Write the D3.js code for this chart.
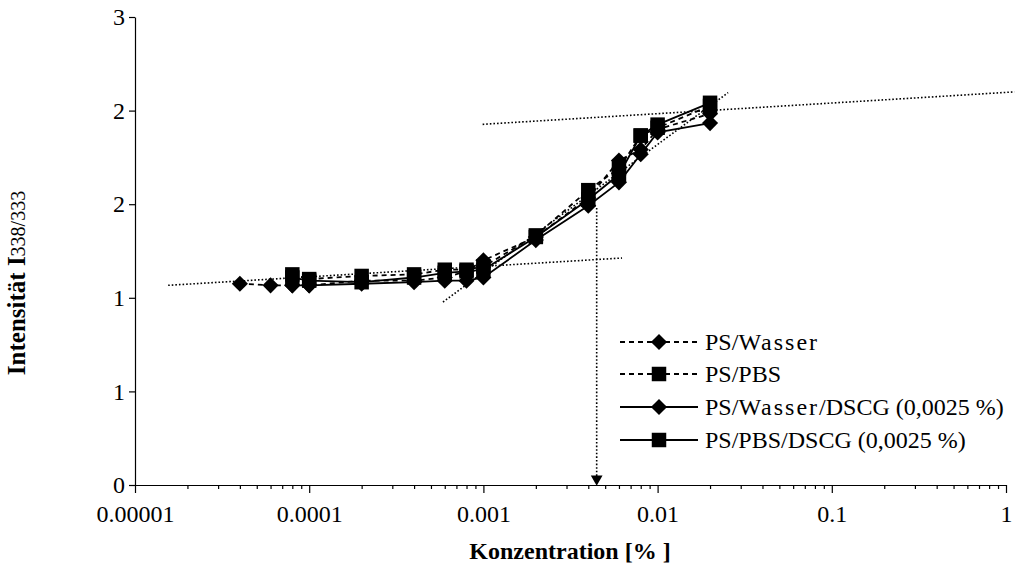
<!DOCTYPE html>
<html>
<head>
<meta charset="utf-8">
<script src="https://cdn.jsdelivr.net/npm/d3@7"></script>
<style>
  body { margin: 0; background: #fff; }
  svg { display: block; font-family: "Liberation Serif", "Times New Roman", serif; }
</style>
</head>
<body>
<svg id="chart"></svg>
<script>
const width = 1016;
const height = 586;
const serif = '"Liberation Serif", "Times New Roman", serif';

// Konzentration [%]
const concWasser = [0.00004, 0.00006, 0.00008, 0.0001, 0.0002, 0.0004, 0.0006, 0.0008, 0.001, 0.002, 0.004, 0.006, 0.008, 0.01, 0.02];
const concPBS = [0.00008, 0.0001, 0.0002, 0.0004, 0.0006, 0.0008, 0.001, 0.002, 0.004, 0.006, 0.008, 0.01, 0.02];

// Intensität I338/333
const psWasser = [1.29, 1.28, 1.28, 1.28, 1.31, 1.31, 1.33, 1.37, 1.44, 1.59, 1.84, 2.08, 2.15, 2.28, 2.38];
const psPBS = [1.35, 1.32, 1.34, 1.35, 1.38, 1.38, 1.40, 1.60, 1.89, 2.03, 2.24, 2.29, 2.43];
const psWasserDSCG = [1.28, 1.28, 1.29, 1.30, 1.31, 1.31, 1.33, 1.57, 1.79, 1.94, 2.12, 2.26, 2.32];
const psPBSDSCG = [1.33, 1.31, 1.30, 1.33, 1.36, 1.37, 1.38, 1.59, 1.83, 1.99, 2.24, 2.31, 2.45];

// Trendlinien (gepunktet)
const trendLow = [[0.0000155, 1.28], [0.00625, 1.455]];
const trendRise = [[0.000586, 1.173], [0.0254, 2.515]];
const trendHigh = [[0.00099, 2.312], [1.12, 2.52]];
const cmcArrow = [[0.00447, 1.776], [0.00447, 0.04]];

const xTicks = [0.00001, 0.0001, 0.001, 0.01, 0.1, 1];
const xTickLabels = ["0.00001", "0.0001", "0.001", "0.01", "0.1", "1"];
const yTicks = [0, 0.6, 1.2, 1.8, 2.4, 3];

// legend labels split so that "Wasser" can carry its wide spacing
const series = [
  { name: ["PS/", "Wasser", ""], x: concWasser, y: psWasser, dash: "5,4", symbol: "diamond" },
  { name: ["PS/PBS", "", ""], x: concPBS, y: psPBS, dash: "5,4", symbol: "square" },
  { name: ["PS/", "Wasser", "/DSCG (0,0025 %)"], x: concPBS, y: psWasserDSCG, dash: null, symbol: "diamond" },
  { name: ["PS/PBS/DSCG (0,0025 %)", "", ""], x: concPBS, y: psPBSDSCG, dash: null, symbol: "square" }
];

const svg = d3.select("#chart")
  .attr("width", width)
  .attr("height", height);

const x = d3.scaleLog().domain([0.00001, 1]).range([135, 1006]);
const y = d3.scaleLinear().domain([0, 3]).range([485, 17]);

const diamond = d3.symbol().type(d3.symbolSquare).size(130);
const square = d3.symbol().type(d3.symbolSquare).size(210);

function marker(sel, kind, cx, cy) {
  if (kind === "diamond") {
    sel.append("path").attr("d", diamond())
      .attr("transform", `translate(${cx},${cy}) rotate(45)`);
  } else {
    sel.append("path").attr("d", square())
      .attr("transform", `translate(${cx},${cy})`);
  }
}

// axes
const minorTicks = [];
for (let e = -5; e < 0; e++) {
  for (let k = 2; k <= 9; k++) minorTicks.push(k * Math.pow(10, e));
}

svg.append("g")
  .attr("transform", "translate(0,485)")
  .call(d3.axisBottom(x).tickValues(minorTicks).tickSize(4).tickSizeOuter(0).tickFormat(""))
  .call(g => g.select(".domain").remove());

svg.append("g")
  .attr("transform", "translate(0,485)")
  .call(d3.axisBottom(x).tickValues(xTicks).tickSize(8).tickSizeOuter(0)
    .tickFormat((d, i) => xTickLabels[i]).tickPadding(12))
  .attr("font-family", serif).attr("font-size", 24)
  .call(g => g.selectAll("text").attr("fill", "#000"));

svg.append("g")
  .attr("transform", "translate(135,0)")
  .call(d3.axisLeft(y).tickValues(yTicks).tickSize(6).tickSizeOuter(0)
    .tickFormat(d3.format(".0f")).tickPadding(4))
  .attr("font-family", serif).attr("font-size", 24)
  .call(g => g.selectAll("text").attr("fill", "#000"));

svg.selectAll(".domain, .tick line").attr("stroke", "#000").attr("stroke-width", 1.2);

// axis titles
svg.append("text")
  .attr("x", 570).attr("y", 559)
  .attr("text-anchor", "middle")
  .attr("font-size", 24).attr("font-weight", "bold")
  .text("Konzentration [% ]");

const yTitle = svg.append("text")
  .attr("transform", "translate(25,283) rotate(-90)")
  .attr("text-anchor", "middle")
  .attr("font-size", 25).attr("font-weight", "bold");
yTitle.append("tspan").text("Intensität I");
yTitle.append("tspan").attr("font-size", 20).attr("font-weight", "normal").text("338/333");

// trend lines
const line = d3.line().x(d => x(d[0])).y(d => y(d[1]));
[trendLow, trendRise, trendHigh, cmcArrow].forEach(t => {
  svg.append("path")
    .attr("d", line(t))
    .attr("fill", "none")
    .attr("stroke", "#000")
    .attr("stroke-width", 1.6)
    .attr("stroke-dasharray", "1.6,2");
});
svg.append("path")
  .attr("d", d3.symbol().type(d3.symbolTriangle).size(60)())
  .attr("transform", `translate(${x(cmcArrow[0][0])},${y(0) - 6}) rotate(180)`)
  .attr("fill", "#000");

// series
series.forEach(s => {
  const pts = s.x.map((v, i) => [v, s.y[i]]);
  svg.append("path")
    .attr("d", line(pts))
    .attr("fill", "none")
    .attr("stroke", "#000")
    .attr("stroke-width", 1.8)
    .attr("stroke-dasharray", s.dash);
});
series.forEach(s => {
  const g = svg.append("g").attr("fill", "#000");
  s.x.forEach((v, i) => marker(g, s.symbol, x(v), y(s.y[i])));
});

// legend
const legendRows = [342, 374, 407, 440];
series.forEach((s, i) => {
  const g = svg.append("g").attr("transform", `translate(0,${legendRows[i]})`);
  g.append("line")
    .attr("x1", 620).attr("x2", 698)
    .attr("stroke", "#000").attr("stroke-width", 1.8)
    .attr("stroke-dasharray", s.dash);
  marker(g.append("g").attr("fill", "#000"), s.symbol, 659, 0);
  const t = g.append("text")
    .attr("x", 705).attr("y", 8)
    .attr("font-size", 24);
  t.append("tspan").text(s.name[0]);
  t.append("tspan").attr("letter-spacing", 2).text(s.name[1]);
  t.append("tspan").text(s.name[2]);
});
</script>
</body>
</html>
